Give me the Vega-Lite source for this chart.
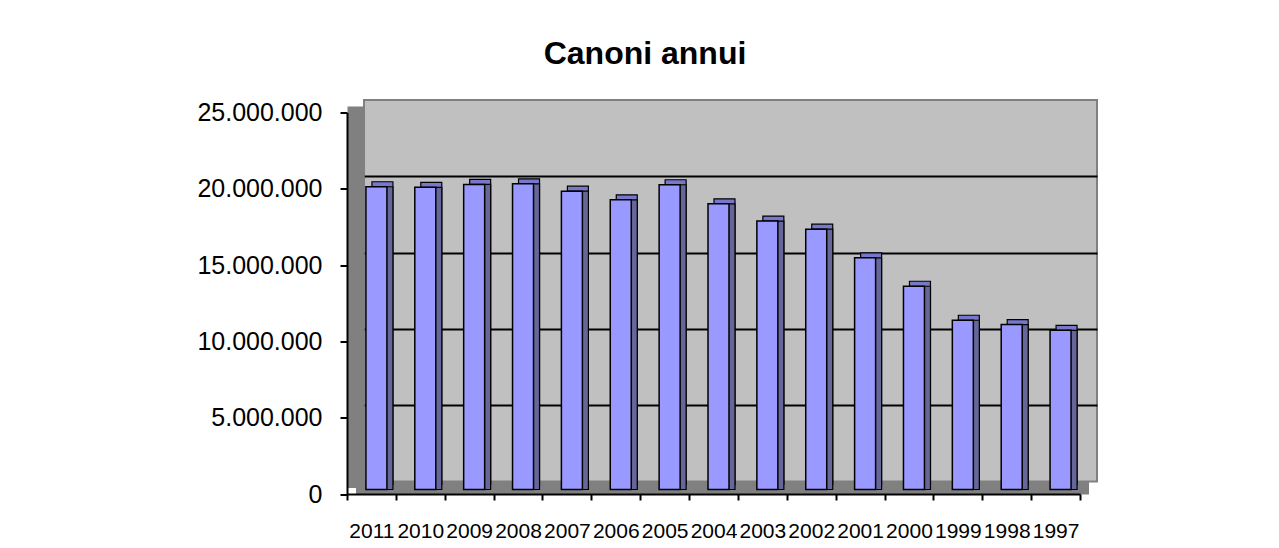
{
  "$schema": "https://vega.github.io/schema/vega-lite/v6.json",
  "width": 733,
  "height": 381.5,
  "autosize": {"type": "none"},
  "padding": {"left": 364, "top": 100, "right": 182, "bottom": 66.5},
  "title": {
    "text": "Canoni annui",
    "font": "Liberation Sans",
    "fontSize": 32,
    "fontWeight": "bold",
    "color": "#000000",
    "anchor": "middle",
    "frame": "group",
    "dx": -85.5,
    "baseline": "alphabetic",
    "offset": 4
  },
  "data": {
    "values": [
      {"year": "2011", "value": 19840000},
      {"year": "2010", "value": 19800000},
      {"year": "2009", "value": 19990000},
      {"year": "2008", "value": 20030000},
      {"year": "2007", "value": 19550000},
      {"year": "2006", "value": 18980000},
      {"year": "2005", "value": 19970000},
      {"year": "2004", "value": 18720000},
      {"year": "2003", "value": 17590000},
      {"year": "2002", "value": 17060000},
      {"year": "2001", "value": 15180000},
      {"year": "2000", "value": 13320000},
      {"year": "1999", "value": 11090000},
      {"year": "1998", "value": 10810000},
      {"year": "1997", "value": 10430000}
    ]
  },
  "layer": [
    {
      "mark": {"type": "bar", "size": 21, "xOffset": -6, "yOffset": 3, "fill": "#7777CC", "stroke": "#000000", "strokeWidth": 1.2},
      "encoding": {
        "x": {
          "field": "year", "type": "nominal", "sort": "descending",
          "scale": {"paddingInner": 0, "paddingOuter": 0},
          "axis": {"orient": "bottom", "title": null, "labels": false, "ticks": false, "grid": false, "domain": true, "domainColor": "#808080", "domainWidth": 12.5, "offset": 6.25, "position": -8.5, "zindex": 0}
        },
        "y": {
          "field": "value", "type": "quantitative",
          "scale": {"domain": [0, 25000000], "nice": false},
          "axis": {"orient": "left", "title": null, "labels": false, "ticks": false, "domain": false, "grid": true, "gridColor": "#000000", "gridWidth": 2, "gridOpacity": 1, "values": [5000000, 10000000, 15000000, 20000000], "zindex": 0}
        }
      }
    },
    {
      "mark": {"type": "bar", "size": 21, "xOffset": -6, "yOffset": 8, "fill": "#666699", "stroke": "#000000", "strokeWidth": 1.2},
      "encoding": {
        "x": {
          "field": "year", "type": "nominal", "sort": "descending",
          "scale": {"paddingInner": 0, "paddingOuter": 0},
          "axis": null
        },
        "y": {
          "field": "value", "type": "quantitative",
          "scale": {"domain": [0, 25000000], "nice": false},
          "axis": {"orient": "left", "title": null, "labels": false, "ticks": false, "grid": false, "domain": true, "domainColor": "#808080", "domainWidth": 17, "offset": 8.5, "position": 6, "zindex": 0}
        }
      }
    },
    {
      "mark": {"type": "bar", "size": 21, "xOffset": -12, "yOffset": 8, "fill": "#9999FF", "stroke": "#000000", "strokeWidth": 1.5},
      "encoding": {
        "x": {
          "field": "year", "type": "nominal", "sort": "descending",
          "scale": {"paddingInner": 0, "paddingOuter": 0},
          "axis": {"orient": "bottom", "title": null, "labelAngle": 0, "labelOverlap": false, "labelFont": "Liberation Sans", "labelFontSize": 21, "labelColor": "#000000", "labelPadding": 20, "tickBand": "extent", "tickSize": 6, "tickWidth": 2, "tickColor": "#000000", "domainColor": "#000000", "domainWidth": 2, "grid": false, "offset": 12.5, "position": -17, "zindex": 0}
        },
        "y": {
          "field": "value", "type": "quantitative",
          "scale": {"domain": [0, 25000000], "nice": false},
          "axis": {"orient": "left", "title": null, "format": ",d", "values": [0, 5000000, 10000000, 15000000, 20000000, 25000000], "labelFont": "Liberation Sans", "labelFontSize": 25, "labelColor": "#000000", "labelPadding": 18, "tickSize": 7, "tickWidth": 2, "tickColor": "#000000", "domainColor": "#000000", "domainWidth": 2, "grid": false, "offset": 17, "position": 12.5, "zindex": 0}
        }
      }
    }
  ],
  "resolve": {"axis": {"x": "independent", "y": "independent"}},
  "config": {
    "locale": {"number": {"decimal": ",", "thousands": ".", "grouping": [3], "currency": ["€", ""]}},
    "view": {"fill": "#C0C0C0", "stroke": "#808080", "strokeWidth": 2},
    "background": "#FFFFFF"
  }
}
